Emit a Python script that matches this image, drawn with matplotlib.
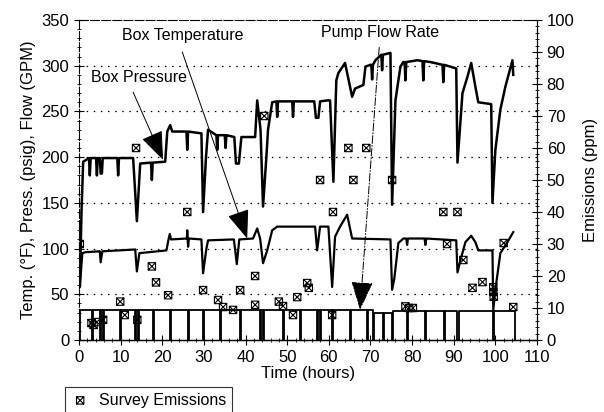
import numpy as np
import matplotlib
matplotlib.use("Agg")
import matplotlib.pyplot as plt
from matplotlib.path import Path
from matplotlib.ticker import MultipleLocator

plt.rcParams['font.family'] = ['Liberation Sans', 'DejaVu Sans']

# --- data ---
# Box pressure (psig) vs time (hours)
press_t = [0.2, 0.6, 1.0, 2.4, 2.6, 2.8, 4.1, 4.3, 4.5, 5.0, 5.2, 5.5, 5.7, 9.2, 9.4, 9.6,
           13.0, 13.9, 14.7, 17.3, 17.5, 17.7, 20.7, 21.2, 21.9, 22.4, 25.8, 26.0, 26.2,
           29.4, 29.8, 30.5, 31.0, 33.0, 33.2, 33.4, 35.0, 35.2, 35.4, 37.3, 37.7, 38.4,
           39.0, 42.3, 42.8, 43.6, 44.2, 45.0, 45.4, 46.4, 47.4, 47.6, 47.8, 51.2, 51.4,
           51.6, 56.5, 56.9, 57.5, 57.9, 59.6, 60.3, 61.1, 61.8, 62.3, 63.9, 65.6, 66.3,
           68.3, 68.8, 70.0, 70.2, 70.4, 70.6, 71.2, 72.6, 72.8, 73.0, 74.8, 75.2, 76.0,
           77.2, 77.9, 78.2, 78.4, 78.6, 81.3, 82.5, 82.7, 82.9, 84.4, 87.3, 87.5, 87.7,
           90.6, 90.9, 92.1, 93.3, 94.2, 95.2, 95.9, 99.0, 99.3, 100.0, 101.2, 102.4,
           104.1, 104.3]
press_v = [60, 140, 195, 199, 180, 199, 199, 180, 199, 199, 182, 182, 199, 199, 180, 199,
           199, 130, 193, 194, 175, 194, 195, 228, 235, 228, 228, 208, 228,
           226, 140, 200, 230, 224, 208, 224, 224, 210, 224, 222, 193, 193,
           222, 222, 262, 230, 146, 200, 230, 260, 261, 244, 261, 261, 244,
           261, 261, 243, 243, 261, 262, 262, 173, 284, 292, 303, 266, 275,
           279, 299, 301, 301, 285, 301, 306, 312, 295, 312, 314, 148, 262,
           299, 304, 304, 284, 304, 306, 305, 284, 305, 304, 301, 282, 301,
           297, 194, 270, 288, 303, 277, 260, 258, 150, 208, 252, 277,
           306, 290]

# Box temperature (F) vs time (hours)
temp_t = [0.2, 0.8, 1.5, 4.8, 5.0, 5.2, 5.6, 13.5, 13.9, 14.5, 21.0, 21.5, 21.8, 22.1,
          25.9, 26.0, 26.2, 26.4, 29.4, 29.8, 30.6, 31.0, 37.2, 37.9, 38.5, 41.8, 42.8,
          43.5, 44.2, 45.2, 46.4, 47.6, 56.7, 57.2, 57.9, 59.9, 60.8, 61.5, 62.7, 64.4,
          65.6, 74.8, 75.2, 75.7, 76.7, 77.9, 78.6, 78.8, 79.0, 83.0, 83.2, 83.4, 90.6,
          90.9, 91.6, 92.8, 94.2, 95.2, 95.9, 99.3, 99.5, 100.0, 101.2, 102.9, 104.3]
temp_v = [58, 95, 96, 97, 97, 85, 97, 99, 75, 95, 98, 110, 116, 110,
          111, 120, 102, 111, 110, 73, 100, 109, 110, 83, 110, 111, 122,
          111, 84, 98, 120, 124, 124, 98, 124, 124, 58, 113, 124, 137,
          111, 110, 55, 66, 106, 111, 111, 104, 111, 111, 104, 111, 109,
          74, 87, 107, 114, 107, 98, 98, 33, 55, 95, 107, 118]

# Pump flow rate (GPM): times where the pump drops to zero, and level after each
flow_start, flow_end = 0.2, 104.6
flow_drops = [3.1, 5.0, 5.8, 9.9, 13.5, 14.2, 17.8, 21.9, 26.2, 29.8, 33.9, 38.7, 43.5,
              44.2, 49.0, 53.1, 57.2, 57.9, 60.8, 65.1, 69.2, 70.7, 73.1, 75.2, 78.8,
              83.2, 87.7, 90.9, 99.5]
flow_levels = [33, 33, 33, 33, 33, 33, 33, 33, 33, 33, 33, 33, 33,
               33, 33, 33, 33, 33, 33, 33, 33, 30, 30, 31.5, 31.5,
               31.5, 31.5, 31.5, 31.5]
flow_first = 33

# Survey emissions (ppm)
surv_t = [0.2, 3.0, 3.5, 4.3, 5.8, 9.9, 11.0, 13.7, 14.0, 17.5, 18.5, 21.4, 26.0, 29.8,
          33.4, 34.6, 37.0, 38.7, 42.3, 42.3, 44.5, 48.0, 49.0, 51.4, 52.4, 54.8, 55.2,
          57.9, 60.8, 61.0, 64.7, 65.9, 69.0, 75.2, 78.4, 79.3, 80.2, 87.5, 88.4, 90.9,
          92.3, 94.5, 96.9, 99.5, 99.5, 99.6, 102.0, 104.3]
surv_v = [30, 5.3, 4.7, 5.6, 6.3, 12, 7.8, 60, 6.3, 23, 18, 14, 40, 15.6,
          12.5, 10.3, 9.4, 15.6, 20, 11, 70, 12, 10.6, 7.8, 13.4, 17.8, 16.3,
          50, 7.8, 40, 60, 50, 60, 50, 10.5, 10, 10, 40, 30, 40,
          25, 16.3, 18.1, 16.5, 15, 13.5, 30.3, 10.3]

# build the flow square wave from the drop times
flow_t = [flow_start, flow_start]
flow_v = [0, flow_first]
prev = flow_first
for t, lev in zip(flow_drops, flow_levels):
    flow_t += [t, t, t + 0.25, t + 0.25]
    flow_v += [prev, 0, 0, lev]
    prev = lev
flow_t += [flow_end, flow_end]
flow_v += [prev, 0]

# boxed-x marker
box_x = Path([(-1, -1), (1, -1), (1, 1), (-1, 1), (-1, -1), (-1, -1), (1, 1), (-1, 1), (1, -1)],
             [Path.MOVETO, Path.LINETO, Path.LINETO, Path.LINETO, Path.CLOSEPOLY,
              Path.MOVETO, Path.LINETO, Path.MOVETO, Path.LINETO])

fig = plt.figure(figsize=(6.04, 4.12), dpi=100)
ax = fig.add_axes([79 / 604, 72 / 412, 458 / 604, 320 / 412])
ax2 = ax.twinx()

ax.plot(press_t, press_v, color='black', lw=1.8, zorder=3)
ax.plot(temp_t, temp_v, color='black', lw=1.6, zorder=3)
ax.plot(flow_t, flow_v, color='black', lw=1.3, zorder=3)

ax2.scatter(surv_t, surv_v, marker=box_x, s=28, facecolors='none', edgecolors='black',
            linewidths=0.8, label='Survey Emissions', zorder=4)

ax.set_xlim(0, 110)
ax.set_ylim(0, 350)
ax2.set_ylim(0, 100)
ax.xaxis.set_major_locator(MultipleLocator(10))
ax.xaxis.set_minor_locator(MultipleLocator(2))
ax.yaxis.set_major_locator(MultipleLocator(50))
ax.yaxis.set_minor_locator(MultipleLocator(10))
ax2.yaxis.set_major_locator(MultipleLocator(10))
ax2.yaxis.set_minor_locator(MultipleLocator(2))

for a in (ax, ax2):
    a.tick_params(which='major', direction='inout', length=7, width=0.8, labelsize=12)
    a.tick_params(which='minor', direction='inout', length=3, width=0.6)
ax.tick_params(axis='y', which='both', right=False)

for yv in range(50, 350, 50):
    ax.axhline(yv, color='black', lw=0.9, ls=(0, (1.2, 4.5)), zorder=1)

for s in ('top', 'left'):
    ax.spines[s].set_linestyle((0, (8, 2)))
    ax.spines[s].set_linewidth(0.8)
for s in ('top', 'left'):
    ax2.spines[s].set_visible(False)
ax2.spines['right'].set_linestyle((0, (2, 1)))
ax2.spines['right'].set_linewidth(0.8)
ax.spines['bottom'].set_linewidth(1.0)

ax.set_xlabel('Time (hours)', fontsize=12, labelpad=1)
ax.set_ylabel('Temp. (°F), Press. (psig), Flow (GPM)', fontsize=12, labelpad=4)
ax2.set_ylabel('Emissions (ppm)', fontsize=12, rotation=90, labelpad=6)

arrow = dict(arrowstyle='-|>,head_length=1.3,head_width=0.5', color='black', lw=0.7,
             mutation_scale=14, shrinkA=0, shrinkB=0)
ax.text(14.3, 287, 'Box Pressure', fontsize=11.5, ha='center', va='center')
ax.annotate('', xy=(20.2, 197), xytext=(13.0, 271), arrowprops=arrow)
ax.text(24.9, 333, 'Box Temperature', fontsize=11.5, ha='center', va='center')
ax.annotate('', xy=(40.4, 111), xytext=(24.8, 315), arrowprops=arrow)
ax.text(72.4, 336, 'Pump Flow Rate', fontsize=11.5, ha='center', va='center')
ax.annotate('', xy=(67.5, 33), xytext=(72.1, 320),
            arrowprops=dict(arrow, linestyle=(0, (8, 2, 1, 2))))

leg = fig.legend(*ax2.get_legend_handles_labels(), loc='upper left',
                 bbox_to_anchor=(65 / 604, 1 - 387 / 412), fontsize=11.5,
                 frameon=True, fancybox=False, borderpad=0.35, handletextpad=0.6,
                 handlelength=1.2, borderaxespad=0)
leg.get_frame().set_edgecolor('black')
leg.get_frame().set_linewidth(0.8)

fig.savefig('out.png', dpi=100)
